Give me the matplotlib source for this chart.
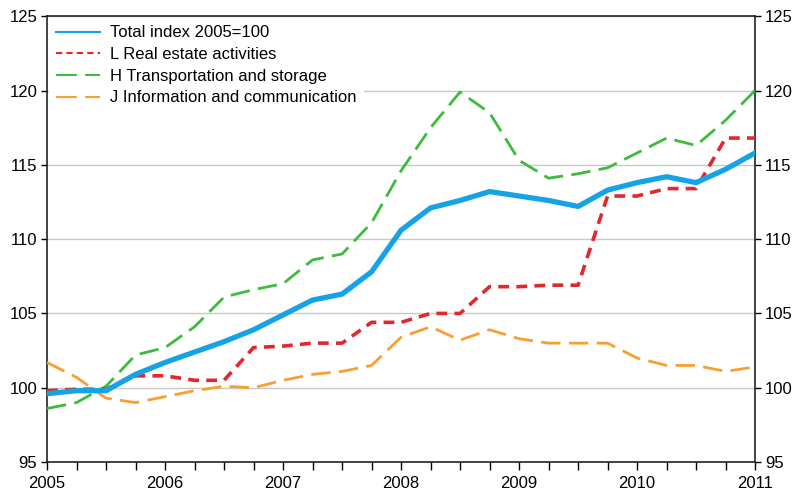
import numpy as np
import matplotlib.pyplot as plt
from matplotlib.lines import Line2D
from matplotlib.ticker import MultipleLocator

plt.rcParams['font.family'] = ['Liberation Sans', 'DejaVu Sans']

# quarterly observations 2005Q1 .. 2011Q1
quarters = [2005 + 0.25 * i for i in range(25)]

total = [99.6, 99.8, 99.8, 100.9, 101.7, 102.4, 103.1, 103.9, 104.9, 105.9, 106.3,
         107.8, 110.6, 112.1, 112.6, 113.2, 112.9, 112.6, 112.2, 113.3, 113.8,
         114.2, 113.8, 114.7, 115.8]
real_estate = [99.8, 99.9, 99.9, 100.8, 100.8, 100.5, 100.5, 102.7, 102.8, 103.0, 103.0,
               104.4, 104.4, 105.0, 105.0, 106.8, 106.8, 106.9, 106.9, 112.9, 112.9,
               113.4, 113.4, 116.8, 116.8]
transport = [98.6, 99.0, 100.1, 102.2, 102.7, 104.1, 106.1, 106.6, 107.0, 108.6, 109.0,
             111.1, 114.6, 117.5, 119.9, 118.5, 115.3, 114.1, 114.4, 114.8, 115.8,
             116.8, 116.3, 118.0, 120.0]
info = [101.7, 100.7, 99.3, 99.0, 99.4, 99.8, 100.1, 100.0, 100.5, 100.9, 101.1,
        101.5, 103.4, 104.1, 103.2, 103.9, 103.3, 103.0, 103.0, 103.0, 102.0,
        101.5, 101.5, 101.1, 101.4]

labels = ['Total index 2005=100', 'L Real estate activities',
          'H Transportation and storage', 'J Information and communication']
colors = ['#15A3E6', '#E0282E', '#3DBB3D', '#F7A030']

fig = plt.figure(figsize=(8.01, 4.91), dpi=100)
ax = fig.add_axes([0.0587, 0.059, 0.884, 0.908])

ax.plot(quarters, info, color=colors[3], lw=2, dashes=(7, 3), zorder=3)
ax.plot(quarters, transport, color=colors[2], lw=2, dashes=(7, 3), zorder=3)
ax.plot(quarters, real_estate, color=colors[1], lw=2.6, dashes=(3, 2), zorder=4)
ax.plot(quarters, total, color=colors[0], lw=3.8, zorder=5)

ax.set_xlim(2005, 2011)
ax.set_ylim(95, 125)
ax.set_xticks(range(2005, 2012))
ax.xaxis.set_minor_locator(MultipleLocator(0.25))
ax.set_yticks(range(95, 130, 5))
ax.yaxis.grid(True, color='#C8C8C8', lw=1)
ax.set_axisbelow(True)

ax.tick_params(axis='x', which='both', direction='out', length=6, width=1, labelsize=12, pad=4)
ax.tick_params(axis='y', which='both', direction='out', length=4, width=1, labelsize=12,
               left=True, right=True, labelleft=True, labelright=True, pad=3)
for s in ax.spines.values():
    s.set_color('#222222')
    s.set_linewidth(1.2)

# thin legend keys like the original
handles = [Line2D([], [], color=colors[0], lw=1.5),
           Line2D([], [], color=colors[1], lw=1.5, dashes=(3, 2)),
           Line2D([], [], color=colors[2], lw=1.5, dashes=(10, 4)),
           Line2D([], [], color=colors[3], lw=1.5, dashes=(10, 4))]
leg = ax.legend(handles, labels, loc='upper left', bbox_to_anchor=(0.0, 1.0), fontsize=12,
                frameon=True, fancybox=False, framealpha=1, edgecolor='white',
                borderaxespad=0.1, handlelength=2.6, labelspacing=0.4,
                handletextpad=0.6, borderpad=0.45)
leg.get_frame().set_linewidth(0)

fig.savefig('out.png', dpi=100)
